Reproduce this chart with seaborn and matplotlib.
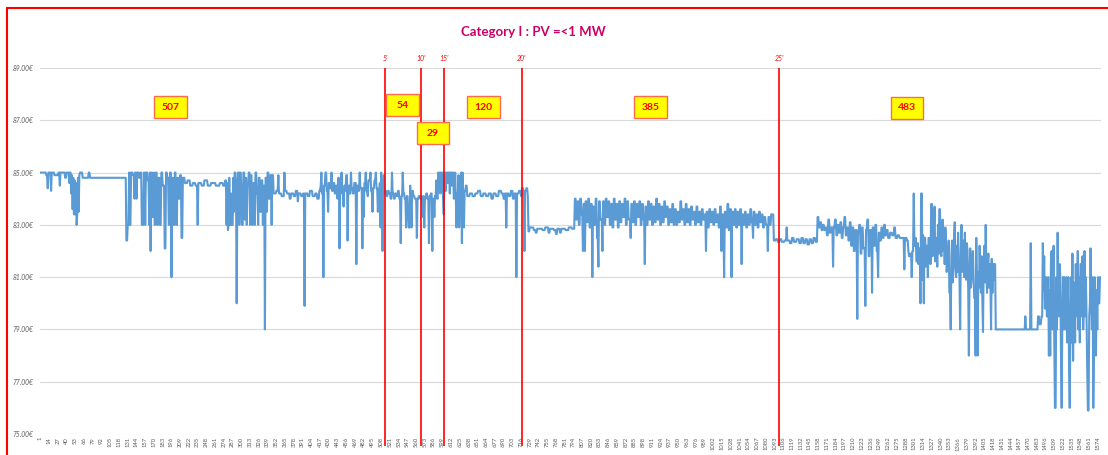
import pandas as pd
import matplotlib.pyplot as plt
import seaborn as sns
from matplotlib.patches import Rectangle
from matplotlib.lines import Line2D

sns.set_style("white")
plt.rcParams['font.family'] = ['Lato', 'DejaVu Sans']

# ==========================================
# DATA ((point number, price) where the line changes)
# ==========================================
n_points = 1578
block_counts = [507, 54, 29, 120, 385, 483]
marker_labels = ["5'", "10'", "15'", "20'", "25'"]
marker_pos = [514, 567, 601, 717, 1100]
y_ticks = [75, 77, 79, 81, 83, 85, 87, 89]

block_507 = [
    (1, 85.0), (10, 84.9), (12, 84.4), (13, 85.0), (17, 84.3), (18, 85.0), (22, 84.9), (28, 85.0),
    (30, 84.5), (31, 85.0), (38, 84.8), (40, 85.0), (44, 84.6), (45, 85.0), (47, 84.2), (48, 84.9),
    (49, 83.6), (50, 84.8), (51, 83.4), (52, 84.7), (53, 83.4), (54, 84.6), (55, 83.0), (56, 83.5),
    (57, 84.8), (58, 83.5), (59, 84.9), (60, 85.0), (64, 84.8), (73, 85.0), (75, 84.8),
    (129, 82.4), (131, 83.0), (133, 85.0), (134, 83.0), (136, 85.0), (139, 84.9), (141, 84.0),
    (142, 85.0), (144, 84.0), (145, 85.0), (148, 84.8), (150, 85.0), (152, 83.0), (154, 83.0),
    (155, 85.0), (157, 83.0), (158, 85.0), (161, 84.7), (163, 83.0), (164, 85.0), (165, 82.0),
    (166, 85.0), (168, 83.3), (170, 85.0), (171, 83.0), (173, 85.0), (175, 83.0), (177, 84.8),
    (179, 83.0), (181, 85.0), (183, 84.5), (186, 82.1), (188, 85.0), (190, 84.8), (192, 83.0),
    (194, 85.0), (196, 81.0), (197, 84.8), (199, 83.0), (201, 85.0), (203, 83.0), (205, 84.8),
    (207, 84.0), (209, 84.9), (211, 82.5), (213, 84.8), (216, 84.6), (220, 84.7), (224, 84.5),
    (228, 84.6), (232, 84.5), (235, 83.0), (236, 84.6), (241, 84.5), (245, 84.7), (250, 84.5),
    (255, 84.6), (262, 84.5), (268, 84.6), (273, 84.5), (276, 84.7),
    (278, 83.0), (279, 84.6), (280, 82.8), (281, 83.0), (282, 84.8), (283, 83.0), (285, 84.2),
    (286, 83.0), (288, 84.8), (289, 83.5), (290, 85.0), (292, 84.5), (293, 80.0), (294, 84.0),
    (295, 85.0), (297, 83.0), (298, 85.0), (300, 84.2), (301, 83.0), (303, 85.0), (305, 83.2),
    (306, 84.8), (308, 83.0), (309, 84.5), (311, 85.0), (313, 83.0), (314, 84.9), (316, 83.0),
    (318, 84.6), (320, 83.0), (321, 85.0), (323, 84.2), (325, 83.0), (326, 84.8), (328, 83.5),
    (330, 84.7), (332, 83.0), (333, 84.5), (335, 79.0), (336, 84.8), (338, 83.5), (339, 85.0),
    (341, 84.0), (343, 84.9), (345, 83.0), (346, 84.9),
    (348, 84.2), (352, 84.3), (355, 84.9), (356, 84.2), (360, 84.1), (364, 85.0), (365, 84.3),
    (368, 84.2), (372, 84.0), (374, 84.2), (378, 84.1), (381, 84.3), (384, 83.9), (385, 84.2),
    (389, 84.1), (392, 84.2), (394, 79.9), (395, 84.2), (399, 84.1), (402, 84.3), (406, 84.1),
    (410, 84.2), (413, 84.0), (416, 84.3),
    (418, 84.5), (419, 85.0), (420, 84.2), (422, 81.0), (423, 84.5), (425, 85.0), (427, 84.3),
    (429, 83.5), (430, 84.6), (432, 84.4), (434, 85.0), (435, 84.3), (437, 84.6), (439, 84.2),
    (441, 84.5), (443, 84.0), (444, 84.8), (446, 82.1), (447, 84.5), (449, 85.0), (450, 84.2),
    (452, 83.7), (453, 84.5), (455, 84.3), (456, 84.9), (458, 82.4), (459, 84.5), (461, 84.2),
    (463, 85.0), (464, 84.4), (466, 84.2), (468, 84.6), (471, 81.5), (472, 84.5), (474, 84.3),
    (476, 85.0), (477, 84.4), (480, 82.1), (481, 84.4), (482, 83.3), (483, 84.6), (485, 85.0),
    (486, 84.3), (488, 84.1), (489, 84.7), (492, 85.0), (493, 84.3), (495, 83.5), (496, 84.4),
    (498, 84.7), (500, 85.0), (501, 84.4), (503, 83.5), (504, 84.3), (506, 84.6), (507, 82.9),
    (508, 85.0), (509, 84.2), (510, 82.0), (511, 84.3), (512, 84.9), (513, 84.2),
]

block_54 = [
    (514, 84.3), (516, 84.1), (518, 84.3), (520, 84.2), (522, 84.0), (524, 85.0), (525, 84.2),
    (527, 84.0), (529, 84.2), (531, 84.1), (533, 84.3), (535, 84.0), (537, 82.3), (538, 84.1),
    (540, 85.0), (541, 84.2), (543, 84.0), (545, 82.9), (546, 84.1), (548, 83.4), (549, 82.9),
    (551, 84.5), (552, 84.0), (553, 82.9), (554, 84.3), (556, 84.1), (558, 84.0), (561, 82.5),
    (562, 84.0), (564, 84.1), (566, 84.0),
]

block_29 = [
    (567, 84.1), (569, 83.9), (570, 83.3), (571, 84.1), (572, 82.9), (573, 84.0), (575, 84.2),
    (577, 84.0), (579, 82.3), (580, 84.1), (582, 84.2), (584, 82.0), (585, 84.0), (587, 83.3),
    (588, 84.1), (590, 84.7), (591, 84.0), (593, 85.0), (594, 84.4), (595, 85.0), (596, 84.2),
    (597, 85.0), (598, 84.5), (599, 85.0), (600, 84.0),
]

block_120 = [
    (601, 83.4), (602, 85.0), (604, 84.3), (605, 85.0), (607, 84.6), (608, 85.0), (610, 84.2),
    (611, 85.0), (613, 84.5), (614, 85.0), (616, 84.0), (617, 84.2), (618, 85.0), (619, 84.0),
    (620, 82.9), (621, 84.2), (623, 84.9), (624, 82.9), (625, 84.3), (627, 85.0), (628, 82.3),
    (629, 85.0), (630, 84.0), (631, 82.9), (632, 84.3), (634, 84.5), (636, 84.1), (640, 84.2),
    (644, 84.1), (648, 84.2), (652, 84.3), (656, 84.1), (660, 84.2), (664, 84.1), (668, 84.2),
    (672, 84.0), (675, 84.2), (679, 84.1), (683, 84.3), (687, 84.2), (690, 84.0), (692, 84.2),
    (694, 82.9), (695, 84.2), (698, 84.1), (701, 84.3), (704, 84.0), (706, 84.2), (709, 81.0),
    (710, 84.2), (713, 84.3), (716, 84.1),
]

block_385 = [
    (718, 84.4), (720, 84.2), (721, 82.0), (722, 84.3), (724, 84.4), (726, 84.1), (727, 82.75),
    (729, 82.9), (735, 82.8), (738, 82.7), (740, 82.85), (748, 82.8), (752, 82.9), (757, 82.7),
    (759, 82.85), (765, 82.8), (768, 82.65), (770, 82.85), (774, 82.7), (776, 82.85), (782, 82.8),
    (787, 82.9), (792, 82.85),
    (796, 84.0), (798, 83.2), (800, 83.9), (802, 83.0), (804, 84.0), (806, 83.4), (808, 82.0),
    (809, 83.8), (811, 82.0), (812, 83.9), (814, 83.1), (816, 84.0), (818, 82.9), (820, 83.8),
    (822, 81.0), (823, 83.7), (825, 83.0), (827, 84.0), (829, 82.5), (831, 81.4), (832, 83.9),
    (834, 83.2), (837, 82.0), (838, 83.9), (840, 83.0), (842, 84.0), (844, 83.3), (846, 83.9),
    (848, 83.0), (850, 83.8), (852, 82.9), (854, 84.0), (856, 83.2), (858, 83.8), (860, 82.9),
    (862, 83.9), (864, 83.1), (866, 83.8), (868, 83.3), (870, 84.0), (872, 83.0), (874, 83.9),
    (876, 83.2), (879, 82.5), (880, 83.8), (882, 83.1), (884, 83.9), (886, 83.0), (888, 83.8),
    (890, 83.3), (892, 83.9), (894, 83.0), (896, 83.8), (898, 83.2), (900, 81.5), (901, 83.7),
    (903, 83.0), (905, 83.9), (907, 83.2), (909, 83.8), (911, 83.0), (913, 83.7), (915, 83.1),
    (917, 84.0), (919, 83.2), (921, 83.8), (923, 83.0), (925, 83.7), (927, 83.1), (929, 83.9),
    (931, 83.3), (933, 83.7), (935, 83.0), (937, 83.6), (939, 83.1), (941, 83.8), (943, 83.0),
    (945, 83.6), (947, 83.0), (949, 83.5), (951, 83.1), (953, 83.9), (955, 83.2), (957, 83.6),
    (959, 83.0), (961, 83.8), (963, 83.1), (965, 83.6), (967, 83.0), (969, 83.7), (971, 83.2),
    (973, 83.5), (975, 83.0), (977, 83.7), (979, 83.1), (981, 83.5), (983, 83.0), (985, 83.6),
    (987, 83.2), (989, 83.4), (991, 82.0), (992, 83.5), (994, 82.9), (996, 83.6), (998, 83.1),
    (1000, 83.5), (1002, 83.0), (1004, 83.6), (1006, 83.1), (1008, 83.4), (1010, 82.9),
    (1012, 83.7), (1014, 82.0), (1015, 83.4), (1017, 82.8), (1018, 81.0), (1019, 83.5),
    (1021, 82.9), (1023, 83.8), (1025, 82.8), (1027, 83.6), (1029, 81.0), (1030, 83.5),
    (1032, 83.0), (1034, 83.6), (1036, 82.9), (1038, 83.5), (1040, 83.0), (1042, 83.6),
    (1044, 81.5), (1045, 83.4), (1047, 83.0), (1049, 83.5), (1051, 82.9), (1053, 83.4),
    (1055, 83.0), (1057, 83.6), (1059, 83.1), (1061, 82.5), (1062, 83.5), (1064, 83.0),
    (1066, 83.4), (1068, 82.9), (1070, 83.5), (1072, 83.1), (1074, 83.4), (1076, 82.9),
    (1078, 83.3), (1080, 83.0), (1083, 82.0), (1084, 83.3), (1086, 83.0), (1088, 83.4),
    (1092, 82.4), (1095, 82.45), (1098, 82.35),
]

block_483 = [
    (1101, 82.45), (1104, 82.35), (1108, 82.4), (1111, 82.9), (1112, 82.4), (1116, 82.3),
    (1119, 82.5), (1122, 82.35), (1126, 82.45), (1130, 82.3), (1133, 82.5), (1136, 82.3),
    (1139, 82.45), (1142, 82.25), (1145, 82.45), (1148, 82.3), (1151, 82.5), (1154, 82.35),
    (1157, 83.3), (1159, 82.9), (1161, 83.1), (1163, 82.8), (1165, 83.0), (1167, 82.8),
    (1169, 82.9), (1171, 82.6), (1173, 83.2), (1175, 82.7), (1177, 82.9), (1180, 81.4),
    (1181, 82.9), (1183, 83.2), (1185, 82.6), (1187, 83.0), (1189, 82.7), (1191, 83.1),
    (1193, 82.5), (1195, 82.9), (1197, 83.3), (1199, 82.6), (1201, 82.9), (1203, 82.4),
    (1205, 83.1), (1207, 82.2), (1209, 82.9), (1211, 82.0), (1213, 82.8), (1216, 79.4),
    (1217, 82.7), (1219, 83.0), (1221, 81.9), (1223, 82.9), (1225, 82.1), (1228, 79.9),
    (1229, 82.8), (1231, 83.2), (1233, 81.8), (1235, 82.8), (1238, 80.4), (1239, 82.9),
    (1241, 82.2), (1243, 83.0), (1245, 82.0), (1247, 81.0), (1248, 82.7), (1250, 82.4),
    (1252, 82.9), (1254, 82.5), (1256, 83.0), (1258, 82.6), (1260, 82.8), (1262, 82.5),
    (1265, 82.7), (1268, 82.6), (1271, 82.9), (1273, 82.5), (1276, 82.6), (1279, 82.5),
    (1283, 82.5), (1286, 81.3), (1287, 82.5), (1290, 82.4), (1292, 82.0), (1293, 81.8),
    (1295, 81.9), (1297, 81.0), (1298, 82.0), (1300, 84.2), (1301, 82.2), (1303, 82.5),
    (1304, 81.6), (1306, 82.3), (1307, 81.5), (1308, 82.1), (1310, 80.0), (1311, 84.2),
    (1313, 80.9), (1314, 82.6), (1315, 80.0), (1316, 82.5), (1318, 81.4), (1319, 82.2),
    (1321, 81.0), (1322, 82.5), (1324, 82.4), (1325, 81.5), (1326, 83.8), (1328, 81.8),
    (1329, 82.0), (1330, 82.8), (1331, 83.7), (1332, 81.6), (1333, 82.5), (1335, 81.4),
    (1336, 83.0), (1337, 81.9), (1338, 83.6), (1340, 82.3), (1341, 81.8), (1342, 82.6),
    (1343, 83.2), (1344, 82.0), (1345, 82.7), (1346, 81.5), (1347, 82.9), (1348, 82.4),
    (1349, 81.2), (1350, 81.6), (1351, 81.5), (1352, 82.4), (1353, 80.4), (1355, 79.0),
    (1356, 81.8), (1357, 82.4), (1358, 80.8), (1359, 81.3), (1360, 82.6), (1361, 83.1),
    (1362, 81.5), (1363, 81.0), (1364, 82.2), (1365, 81.2), (1366, 82.7), (1367, 81.4),
    (1368, 81.0), (1369, 79.0), (1370, 82.0), (1371, 83.0), (1372, 81.2), (1373, 81.6),
    (1374, 82.4), (1375, 81.0), (1376, 82.7), (1377, 81.4), (1378, 80.9), (1379, 82.3),
    (1380, 82.0), (1381, 80.5), (1382, 78.0), (1383, 81.0), (1384, 82.1), (1385, 80.6),
    (1386, 80.9), (1387, 81.8), (1388, 82.0), (1389, 81.0), (1390, 80.2), (1392, 78.0),
    (1393, 82.5), (1394, 80.5), (1395, 78.0), (1396, 81.2), (1397, 80.6), (1398, 82.2),
    (1399, 81.0), (1400, 80.4), (1401, 81.8), (1402, 80.2), (1403, 78.9), (1404, 81.5),
    (1405, 82.2), (1406, 80.8), (1407, 83.0), (1408, 81.2), (1409, 80.4), (1410, 81.5),
    (1411, 81.9), (1412, 80.6), (1413, 81.5), (1414, 80.8), (1415, 79.0), (1416, 81.7),
    (1417, 80.4), (1418, 81.5), (1419, 80.9), (1420, 81.5), (1422, 79.0),
    (1466, 79.5), (1467, 79.0), (1474, 82.3), (1475, 79.0),
    (1485, 79.5), (1487, 79.2), (1490, 79.5), (1492, 82.3), (1493, 80.5), (1494, 81.8),
    (1495, 79.8), (1497, 81.0), (1498, 79.5), (1500, 81.0), (1501, 78.0), (1502, 80.5),
    (1503, 78.0), (1504, 81.5), (1505, 82.0), (1506, 79.0), (1507, 80.9), (1508, 82.2),
    (1509, 78.5), (1510, 76.0), (1512, 81.0), (1513, 79.0), (1514, 82.7), (1515, 80.0),
    (1516, 79.5), (1517, 81.5), (1518, 81.0), (1519, 78.0), (1520, 76.0), (1521, 79.5),
    (1522, 81.0), (1523, 79.0), (1524, 81.0), (1525, 79.0), (1526, 80.5), (1527, 81.0),
    (1528, 78.5), (1529, 80.0), (1530, 81.0), (1531, 77.5), (1532, 76.0), (1533, 79.0),
    (1534, 81.0), (1535, 78.5), (1536, 81.9), (1537, 77.8), (1538, 80.8), (1539, 80.5),
    (1540, 78.5), (1541, 81.5), (1542, 79.5), (1543, 80.8), (1544, 82.0), (1545, 79.0),
    (1546, 81.0), (1547, 78.5), (1548, 81.5), (1549, 81.5), (1550, 79.5), (1551, 81.8),
    (1552, 79.0), (1553, 80.0), (1554, 82.0), (1555, 79.5), (1556, 81.0), (1557, 79.5),
    (1558, 77.5), (1559, 75.9), (1561, 79.5), (1562, 80.0), (1563, 82.1), (1564, 80.0),
    (1565, 79.0), (1566, 81.0), (1567, 76.0), (1568, 78.0), (1569, 81.0), (1570, 79.5),
    (1571, 78.0), (1572, 80.5), (1573, 79.0), (1574, 81.0), (1575, 80.0), (1577, 81.0),
]

# count boxes (centre point number, centre price)
box_pos = [(195, 87.5), (540, 87.57), (585, 86.5), (660, 87.5), (908, 87.5), (1290, 87.47)]

# ==========================================
# BUILD SERIES (hold each read value until the next change)
# ==========================================
anchors = block_507 + block_54 + block_29 + block_120 + block_385 + block_483
series = pd.Series(dict(anchors)).sort_index().reindex(range(1, n_points + 1)).ffill()
df = pd.DataFrame({'point': series.index, 'price': series.values})

# ==========================================
# PLOT
# ==========================================
fig = plt.figure(figsize=(11.08, 4.55), dpi=100)
ax = fig.add_axes([40 / 1108, 21 / 455, 1061 / 1108, 366 / 455])

sns.lineplot(data=df, x='point', y='price', ax=ax, color='#5B9BD5', linewidth=1.5, estimator=None)

ax.set_xlim(0.5, n_points + 0.5)
ax.set_ylim(75, 89)
ax.set_yticks(y_ticks)
ax.set_yticklabels([f'{v:.2f}€' for v in y_ticks], fontsize=4.8, style='italic', color='#595959')
x_ticks = list(range(1, n_points + 1, 13))
ax.set_xticks(x_ticks)
ax.set_xticklabels([str(t) for t in x_ticks], rotation=90, fontsize=4.2, color='#595959')
ax.tick_params(axis='y', length=0, pad=5)
ax.tick_params(axis='x', length=0, pad=2)
ax.grid(axis='y', color='#D9D9D9', linewidth=0.8)
ax.set_axisbelow(True)
for sp in ax.spines.values():
    sp.set_visible(False)
ax.set_xlabel('')
ax.set_ylabel('')

# vertical time markers
ax.vlines(marker_pos, 74.55, 89, colors='red', linewidth=1.2, clip_on=False, zorder=4)
for p, lbl in zip(marker_pos, marker_labels):
    ax.text(p, 89.38, lbl, ha='center', va='center', fontsize=5, style='italic', color='red', clip_on=False)

# yellow count boxes
for (cx, cy), cnt in zip(box_pos, block_counts):
    ax.add_patch(Rectangle((cx - 24.5, cy - 0.42), 49, 0.84, facecolor='#FFFF00',
                           edgecolor='#FF6B4A', linewidth=1, zorder=5))
    ax.text(cx, cy, str(cnt), ha='center', va='center', color='red', fontweight='bold',
            fontsize=7.5, zorder=6)

fig.text(533 / 1108, 1 - 32 / 455, 'Category I : PV =<1 MW', ha='center', va='center',
         color='#CC0066', fontsize=9.5, fontweight='bold')

# red frame around the chart
fig.add_artist(Line2D([7 / 1108, 7 / 1108], [0, 1 - 8 / 455], color='red', linewidth=1.5))
fig.add_artist(Line2D([7 / 1108, 1], [1 - 8 / 455, 1 - 8 / 455], color='red', linewidth=1.5))

fig.savefig('out.png', dpi=100)
plt.close()
